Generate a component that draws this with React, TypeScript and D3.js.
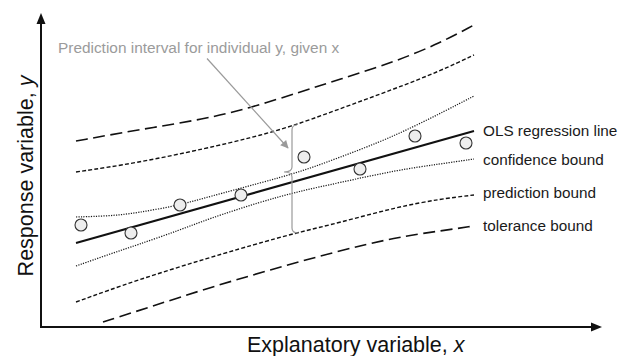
import React from "react";
import * as d3 from "d3";

// Schematic regression chart: observed points, OLS fit and three kinds of bounds.
const W = 619;
const H = 356;

// Observations (x, y)
const obsX = [40, 90, 139, 200, 263, 319, 374, 425];
const obsY = [102, 94, 122, 132, 170, 158, 191, 184];

// OLS regression line end points
const olsX = [35, 433];
const olsY = [84, 196];

// Confidence bounds
const confUpperX = [35, 69, 96, 139, 167, 219, 259, 297, 339, 372, 404, 433];
const confUpperY = [110, 111, 114, 122, 130, 144, 155, 169, 185, 200, 216, 231];
const confLowerX = [35, 69, 96, 139, 167, 219, 259, 297, 356, 399, 433];
const confLowerY = [61, 73, 82, 97, 108, 125, 136, 144, 157, 163, 168];

// Prediction bounds
const predUpperX = [35, 96, 167, 209, 249, 293, 356, 399, 433];
const predUpperY = [155, 164, 179, 189, 200, 216, 239, 256, 272];
const predLowerX = [35, 96, 167, 229, 259, 297, 356, 399, 433];
const predLowerY = [25, 47, 69, 87, 95, 104, 120, 128, 132];

// Tolerance bounds
const tolUpperX = [35, 96, 164, 209, 259, 297, 356, 399, 433];
const tolUpperY = [186, 197, 208, 219, 235, 247, 266, 284, 302];
const tolLowerX = [62, 109, 167, 229, 293, 356, 399, 433];
const tolLowerY = [5, 20, 39, 57, 75, 90, 96, 101];

// Brace marking the prediction interval at one x
const braceX = 251;
const braceTop = 202;
const braceMid = 155;
const braceBottom = 94;

// Annotation arrow (from text to brace)
const noteArrowX = [166, 247];
const noteArrowY = [268.5, 179];

const curveLabels = [
  "OLS regression line",
  "confidence bound",
  "prediction bound",
  "tolerance bound",
];
const labelY = [196, 167.5, 134, 101];
const noteText = "Prediction interval for individual y, given x";

const xScale = d3.scaleLinear().domain([0, 560]).range([41, 601]);
const yScale = d3.scaleLinear().domain([0, 314]).range([327, 13]);

const zip = (xs: number[], ys: number[]) => xs.map((x, i) => [x, ys[i]] as [number, number]);

const smooth = d3
  .line<[number, number]>()
  .x((d) => xScale(d[0]))
  .y((d) => yScale(d[1]))
  .curve(d3.curveBasis);

const straight = d3
  .line<[number, number]>()
  .x((d) => xScale(d[0]))
  .y((d) => yScale(d[1]));

const FONT = "'Liberation Sans', Arial, Helvetica, sans-serif";

export default function App() {
  const ax0 = xScale(0);
  const ay0 = yScale(0);
  const axTop = yScale(314);
  const axRight = xScale(561);

  const bx = xScale(braceX);
  const bt = yScale(braceTop);
  const bm = yScale(braceMid);
  const bb = yScale(braceBottom);
  const bracePath = [
    `M${bx + 5},${bt}`,
    `Q${bx},${bt} ${bx},${bt + 5}`,
    `L${bx},${bm - 5}`,
    `Q${bx},${bm} ${bx - 8},${bm}`,
    `Q${bx},${bm} ${bx},${bm + 5}`,
    `L${bx},${bb - 5}`,
    `Q${bx},${bb} ${bx + 6},${bb}`,
  ].join(" ");

  const labelX = xScale(442);

  return (
    <svg
      width={W}
      height={H}
      viewBox={`0 0 ${W} ${H}`}
      style={{ position: "absolute", left: 0, top: 0, background: "#fff" }}
    >
      <defs>
        <marker
          id="noteHead"
          viewBox="0 0 10 10"
          refX="9"
          refY="5"
          markerWidth="11"
          markerHeight="8"
          markerUnits="userSpaceOnUse"
          orient="auto"
        >
          <path d="M0,0 L10,5 L0,10 Z" fill="#9a9a9a" />
        </marker>
      </defs>

      {/* axes */}
      <line x1={ax0} y1={ay0} x2={ax0} y2={axTop + 10} stroke="#111" strokeWidth={2} />
      <path d={`M${ax0},${axTop} L${ax0 - 4.5},${axTop + 11} L${ax0 + 4.5},${axTop + 11} Z`} fill="#111" />
      <line x1={ax0 - 1} y1={ay0} x2={axRight - 10} y2={ay0} stroke="#111" strokeWidth={2} />
      <path d={`M${axRight},${ay0} L${axRight - 11},${ay0 - 4.5} L${axRight - 11},${ay0 + 4.5} Z`} fill="#111" />

      {/* tolerance bounds */}
      <path d={smooth(zip(tolUpperX, tolUpperY)) || ""} fill="none" stroke="#111" strokeWidth={1.6} strokeDasharray="12 5.5" />
      <path d={smooth(zip(tolLowerX, tolLowerY)) || ""} fill="none" stroke="#111" strokeWidth={1.6} strokeDasharray="12 5.5" />

      {/* prediction bounds */}
      <path d={smooth(zip(predUpperX, predUpperY)) || ""} fill="none" stroke="#111" strokeWidth={1.4} strokeDasharray="4 2.2" />
      <path d={smooth(zip(predLowerX, predLowerY)) || ""} fill="none" stroke="#111" strokeWidth={1.4} strokeDasharray="4 2.2" />

      {/* confidence bounds */}
      <path d={smooth(zip(confUpperX, confUpperY)) || ""} fill="none" stroke="#1a1a1a" strokeWidth={1.25} strokeDasharray="1.2 1.3" />
      <path d={smooth(zip(confLowerX, confLowerY)) || ""} fill="none" stroke="#1a1a1a" strokeWidth={1.25} strokeDasharray="1.2 1.3" />

      {/* OLS fit */}
      <path d={straight(zip(olsX, olsY)) || ""} fill="none" stroke="#111" strokeWidth={2} />

      {/* observations */}
      {obsX.map((x, i) => (
        <circle
          key={i}
          cx={xScale(x)}
          cy={yScale(obsY[i])}
          r={6}
          fill="#eeeeee"
          stroke="#333"
          strokeWidth={1.1}
        />
      ))}

      {/* prediction interval brace and note */}
      <path d={bracePath} fill="none" stroke="#9a9a9a" strokeWidth={1.2} />
      <line
        x1={xScale(noteArrowX[0])}
        y1={yScale(noteArrowY[0])}
        x2={xScale(noteArrowX[1])}
        y2={yScale(noteArrowY[1])}
        stroke="#9a9a9a"
        strokeWidth={1.2}
        markerEnd="url(#noteHead)"
      />
      <text x={58} y={53} fontFamily={FONT} fontSize={15.4} fill="#9b9b9b">
        {noteText}
      </text>

      {/* curve labels */}
      {curveLabels.map((t, i) => (
        <text key={t} x={labelX} y={yScale(labelY[i]) + 5} fontFamily={FONT} fontSize={15.3} fill="#1a1a1a">
          {t}
        </text>
      ))}

      {/* axis titles */}
      <text x={247} y={351.5} fontFamily={FONT} fontSize={21.5} fill="#111">
        Explanatory variable, <tspan fontStyle="italic">x</tspan>
      </text>
      <text
        transform={`translate(33,176) rotate(-90)`}
        textAnchor="middle"
        fontFamily={FONT}
        fontSize={21.5}
        fill="#111"
      >
        Response variable, <tspan fontStyle="italic">y</tspan>
      </text>
    </svg>
  );
}
